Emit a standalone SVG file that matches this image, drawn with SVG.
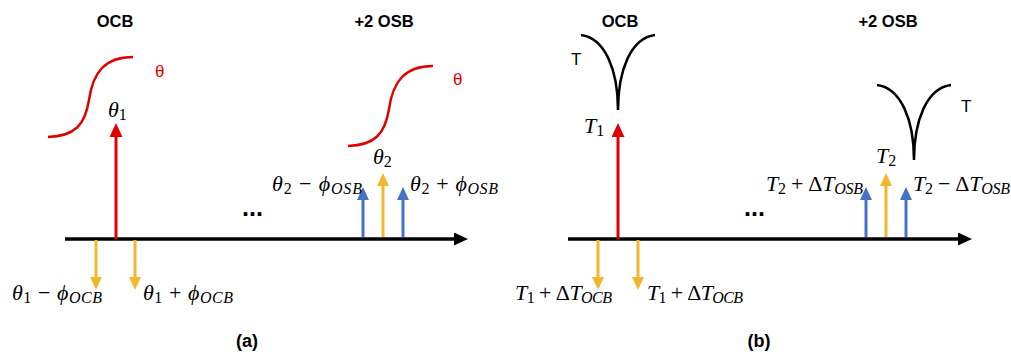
<svg xmlns="http://www.w3.org/2000/svg" width="1011" height="356" viewBox="0 0 1011 356">
<style>
.hd{font-family:"Liberation Sans",Arial,sans-serif;font-weight:bold;font-size:16.5px;fill:#000;text-anchor:middle}
.pl{font-family:"Liberation Sans",Arial,sans-serif;font-weight:bold;font-size:18px;fill:#000;text-anchor:middle}
.dots{font-family:"Liberation Sans",Arial,sans-serif;font-weight:bold;font-size:25px;fill:#000}
.sym{font-family:"Liberation Sans",Arial,sans-serif;font-size:17px}
.m{font-family:"Liberation Serif","DejaVu Serif",serif;font-size:22px;fill:#000}
.i{font-style:italic}
.sub{font-size:16px}
.curveR{fill:none;stroke:#E10000;stroke-width:2.5}
.curveK{fill:none;stroke:#000;stroke-width:2.5}
.ax{stroke:#000;stroke-width:3.5;marker-end:url(#hK)}
.aR{stroke:#E10000;stroke-width:3;marker-end:url(#hR)}
.aY{stroke:#F1B82D;stroke-width:3;marker-end:url(#hY)}
.aB{stroke:#4472C4;stroke-width:3;marker-end:url(#hB)}
</style>
<defs>
<marker id="hK" markerUnits="userSpaceOnUse" markerWidth="14" markerHeight="13" viewBox="0 0 14 13" refX="8" refY="6.5" orient="auto"><path d="M0,0 L14,6.5 L0,13 z" fill="#000"/></marker>
<marker id="hR" markerUnits="userSpaceOnUse" markerWidth="14" markerHeight="13" viewBox="0 0 14 13" refX="8" refY="6.5" orient="auto"><path d="M0,0 L14,6.5 L0,13 z" fill="#E10000"/></marker>
<marker id="hY" markerUnits="userSpaceOnUse" markerWidth="13" markerHeight="12" viewBox="0 0 13 12" refX="7" refY="6" orient="auto"><path d="M0,0 L13,6 L0,12 z" fill="#F1B82D"/></marker>
<marker id="hB" markerUnits="userSpaceOnUse" markerWidth="13" markerHeight="12" viewBox="0 0 13 12" refX="7" refY="6" orient="auto"><path d="M0,0 L13,6 L0,12 z" fill="#4472C4"/></marker>
</defs>
<rect width="1011" height="356" fill="#fff"/>

<!-- Panel (a) -->
<g id="a-headers">
<text class="hd" x="115" y="27">OCB</text>
<text class="hd" x="384" y="27">+2 OSB</text>
</g>
<g id="a-curve1">
<path class="curveR" d="M48,137 C75,136 85,125 89,100 C93,72 105,57 133,57"/>
<text class="sym" x="155" y="77" fill="#E10000">θ</text>
</g>
<g id="a-curve2">
<path class="curveR" d="M348,146 C375,145 385,134 389,109 C393,81 405,66 433,66"/>
<text class="sym" x="453" y="85" fill="#E10000">θ</text>
</g>
<g id="a-connectors">
<line class="ax" x1="65" y1="239" x2="462" y2="239"/>
<line class="aR" x1="116" y1="239" x2="116" y2="129"/>
<line class="aY" x1="96" y1="240" x2="96" y2="284"/>
<line class="aY" x1="135" y1="240" x2="135" y2="284"/>
<line class="aB" x1="363" y1="237" x2="363" y2="193"/>
<line class="aY" x1="383" y1="237" x2="383" y2="179"/>
<line class="aB" x1="403" y1="237" x2="403" y2="193"/>
</g>
<g id="a-labels">
<text class="m" x="108" y="117"><tspan class="i">θ</tspan><tspan class="sub" dy="3">1</tspan></text>
<text class="m" x="373" y="164"><tspan class="i">θ</tspan><tspan class="sub" dy="3">2</tspan></text>
<text class="m" x="272" y="191" textLength="90" lengthAdjust="spacing"><tspan class="i">θ</tspan><tspan class="sub" dy="3">2</tspan><tspan dy="-3"> − </tspan><tspan class="i">ϕ</tspan><tspan class="sub i" dy="3">OSB</tspan></text>
<text class="m" x="410" y="191" textLength="88" lengthAdjust="spacing"><tspan class="i">θ</tspan><tspan class="sub" dy="3">2</tspan><tspan dy="-3"> + </tspan><tspan class="i">ϕ</tspan><tspan class="sub i" dy="3">OSB</tspan></text>
<text class="m" x="12" y="300" textLength="90" lengthAdjust="spacing"><tspan class="i">θ</tspan><tspan class="sub" dy="3">1</tspan><tspan dy="-3"> − </tspan><tspan class="i">ϕ</tspan><tspan class="sub i" dy="3">OCB</tspan></text>
<text class="m" x="143" y="300" textLength="90" lengthAdjust="spacing"><tspan class="i">θ</tspan><tspan class="sub" dy="3">1</tspan><tspan dy="-3"> + </tspan><tspan class="i">ϕ</tspan><tspan class="sub i" dy="3">OCB</tspan></text>
<text class="dots" x="242" y="216">...</text>
<text class="pl" x="247" y="347">(a)</text>
</g>

<!-- Panel (b) -->
<g id="b-headers">
<text class="hd" x="620" y="27">OCB</text>
<text class="hd" x="888" y="27">+2 OSB</text>
</g>
<g id="b-curve1">
<path class="curveK" d="M581,35 C605,38 618,70 618,110 M655,35 C631,38 618,70 618,110"/>
<text class="sym" x="571" y="65" fill="#000">T</text>
</g>
<g id="b-curve2">
<path class="curveK" d="M877,85 C901,88 914,120 914,160 M951,85 C927,88 914,120 914,160"/>
<text class="sym" x="961" y="112" fill="#000">T</text>
</g>
<g id="b-connectors">
<line class="ax" x1="568" y1="239" x2="966" y2="239"/>
<line class="aR" x1="618" y1="239" x2="618" y2="129"/>
<line class="aY" x1="598" y1="240" x2="598" y2="284"/>
<line class="aY" x1="638" y1="240" x2="638" y2="284"/>
<line class="aB" x1="866" y1="237" x2="866" y2="193"/>
<line class="aY" x1="886" y1="237" x2="886" y2="179"/>
<line class="aB" x1="906" y1="237" x2="906" y2="193"/>
</g>
<g id="b-labels">
<text class="m" x="584" y="133"><tspan class="i">T</tspan><tspan class="sub" dy="3">1</tspan></text>
<text class="m" x="876" y="163"><tspan class="i">T</tspan><tspan class="sub" dy="3">2</tspan></text>
<text class="m" x="766" y="191" textLength="97" lengthAdjust="spacing"><tspan class="i">T</tspan><tspan class="sub" dy="3">2</tspan><tspan dy="-3"> + Δ</tspan><tspan class="i">T</tspan><tspan class="sub i" dy="3">OSB</tspan></text>
<text class="m" x="913" y="191" textLength="97" lengthAdjust="spacing"><tspan class="i">T</tspan><tspan class="sub" dy="3">2</tspan><tspan dy="-3"> − Δ</tspan><tspan class="i">T</tspan><tspan class="sub i" dy="3">OSB</tspan></text>
<text class="m" x="515" y="300" textLength="97" lengthAdjust="spacing"><tspan class="i">T</tspan><tspan class="sub" dy="3">1</tspan><tspan dy="-3"> + Δ</tspan><tspan class="i">T</tspan><tspan class="sub i" dy="3">OCB</tspan></text>
<text class="m" x="647" y="300" textLength="96" lengthAdjust="spacing"><tspan class="i">T</tspan><tspan class="sub" dy="3">1</tspan><tspan dy="-3"> + Δ</tspan><tspan class="i">T</tspan><tspan class="sub i" dy="3">OCB</tspan></text>
<text class="dots" x="744" y="216">...</text>
<text class="pl" x="759" y="347">(b)</text>
</g>
</svg>
